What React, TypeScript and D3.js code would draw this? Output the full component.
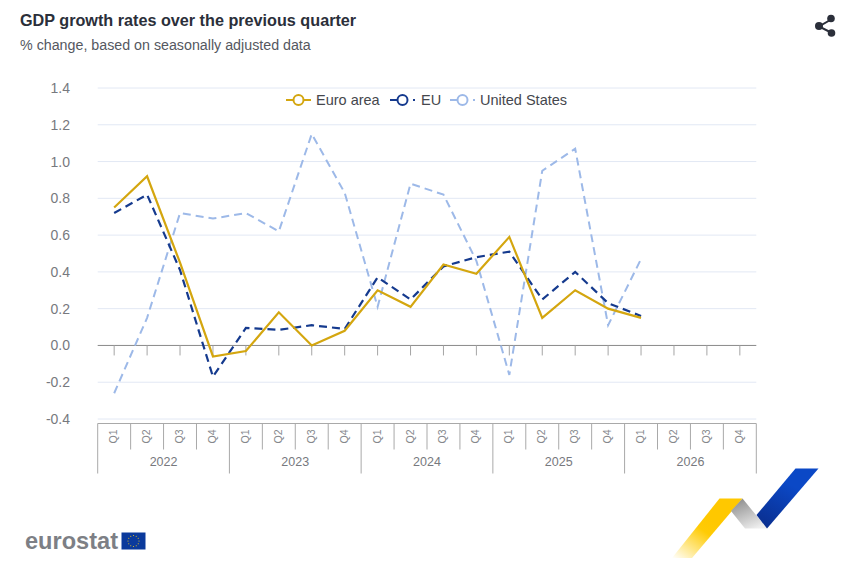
import React from "react";
import * as d3 from "d3";

const years = ["2022", "2023", "2024", "2025", "2026"];
const quarters = ["Q1", "Q2", "Q3", "Q4"];
const yTicks = [-0.4, -0.2, 0, 0.2, 0.4, 0.6, 0.8, 1.0, 1.2, 1.4];
const euroArea = [0.75, 0.92, 0.45, -0.06, -0.03, 0.18, 0.0, 0.08, 0.30, 0.21, 0.44, 0.39, 0.59, 0.15, 0.30, 0.20, 0.15];
const eu = [0.72, 0.82, 0.41, -0.17, 0.095, 0.085, 0.11, 0.09, 0.37, 0.25, 0.43, 0.48, 0.51, 0.25, 0.40, 0.23, 0.16];
const us = [-0.26, 0.15, 0.72, 0.69, 0.72, 0.62, 1.15, 0.83, 0.21, 0.88, 0.82, 0.46, -0.16, 0.95, 1.07, 0.11, 0.47];

const FONT = "'Liberation Sans', Arial, sans-serif";
const keys = years.flatMap((y) => quarters.map((q) => `${y}-${q}`));
const x = d3.scaleBand<string>().domain(keys).range([97.7, 756.3]);
const y = d3.scaleLinear().domain([-0.4, 1.4]).range([419, 88]);
const cx = (i: number) => x(keys[i])! + x.bandwidth() / 2;
const line = d3.line<number>().x((_, i) => cx(i)).y((d) => y(d));

const series = [
  { name: "United States", values: us, color: "#9db9e8", dash: "8 5", width: 2 },
  { name: "EU", values: eu, color: "#153a8e", dash: "8 5", width: 2.2 },
  { name: "Euro area", values: euroArea, color: "#d4a60f", dash: undefined, width: 2.2 },
];

const legend = [
  { label: "Euro area", color: "#d4a60f", lx: 286, tx: 316, dash: false },
  { label: "EU", color: "#153a8e", lx: 390, tx: 421, dash: true },
  { label: "United States", color: "#9db9e8", lx: 450, tx: 480, dash: true },
];

export default function App() {
  const top = 423.5, q = 449.5, bottom = 473.5;
  return (
    <svg width={842} height={565} style={{ position: "absolute", left: 0, top: 0, background: "#fff" }} fontFamily={FONT}>
      <defs>
        <linearGradient id="yel" x1="0" y1="1" x2="0.55" y2="0.35">
          <stop offset="0" stopColor="#ffcc00" stopOpacity={0} />
          <stop offset="0.75" stopColor="#ffcb05" />
          <stop offset="1" stopColor="#ffc800" />
        </linearGradient>
        <linearGradient id="gry" x1="0.2" y1="0" x2="0.7" y2="1">
          <stop offset="0" stopColor="#8d8d8d" />
          <stop offset="1" stopColor="#eeeeee" />
        </linearGradient>
        <linearGradient id="blu" x1="0.2" y1="1" x2="0.6" y2="0.3">
          <stop offset="0" stopColor="#0a2f90" />
          <stop offset="1" stopColor="#0b48c6" />
        </linearGradient>
      </defs>

      <text x={20} y={26} fontSize={16.2} fontWeight={700} fill="#2b2f3a">GDP growth rates over the previous quarter</text>
      <text x={20} y={50} fontSize={14.25} fill="#55585f">% change, based on seasonally adjusted data</text>

      <g fill="#2b2f3a" stroke="#2b2f3a">
        <path d="M832 19 L819 26.5 L832 33" fill="none" strokeWidth={2} />
        <circle cx={831} cy={18.5} r={3.8} strokeWidth={0} />
        <circle cx={819} cy={26} r={4} strokeWidth={0} />
        <circle cx={831.5} cy={33} r={3.8} strokeWidth={0} />
      </g>

      {yTicks.map((t) => (
        <g key={t}>
          {t !== 0 && <line x1={97.7} x2={756.3} y1={y(t)} y2={y(t)} stroke="#e2e8f4" strokeWidth={1} />}
          <text x={70} y={y(t) + 5} textAnchor="end" fontSize={14} fill="#77797e">{t.toFixed(1)}</text>
        </g>
      ))}

      <line x1={97.7} x2={756.3} y1={y(0)} y2={y(0)} stroke="#8a8a8a" strokeWidth={1} />
      {keys.map((_, i) => (
        <line key={i} x1={cx(i)} x2={cx(i)} y1={y(0)} y2={y(0) + 10} stroke="#a5a5a5" strokeWidth={1} />
      ))}

      {series.map((s) => (
        <path key={s.name} d={line(s.values)!} fill="none" stroke={s.color} strokeWidth={s.width} strokeDasharray={s.dash} strokeLinejoin="miter" />
      ))}

      <line x1={97.7} x2={756.3} y1={top} y2={top} stroke="#a9a9a9" strokeWidth={1} />
      {keys.map((k, i) => {
        const left = x(k)!;
        const isYear = i % 4 === 0;
        return (
          <g key={k}>
            <line x1={left} x2={left} y1={top} y2={isYear ? bottom : q} stroke="#a9a9a9" strokeWidth={1} />
            <text transform={`translate(${cx(i) + 3},${436.5}) rotate(-90)`} textAnchor="middle" fontSize={10.5} fill="#85878c">{k.slice(5)}</text>
          </g>
        );
      })}
      <line x1={756.3} x2={756.3} y1={top} y2={bottom} stroke="#a9a9a9" strokeWidth={1} />
      {years.map((yr, i) => (
        <text key={yr} x={cx(i * 4 + 1) + x.bandwidth() / 2} y={466} textAnchor="middle" fontSize={12.5} fill="#77797e">{yr}</text>
      ))}

      {legend.map((l) => (
        <g key={l.label}>
          <line x1={l.lx} x2={l.lx + 25} y1={100} y2={100} stroke={l.color} strokeWidth={2} strokeDasharray={l.dash ? "11 5 2 5" : undefined} />
          <circle cx={l.lx + 12.5} cy={100} r={5} fill="#fff" stroke={l.color} strokeWidth={2} />
          <text x={l.tx} y={105} fontSize={14.5} fill="#45474d">{l.label}</text>
        </g>
      ))}

      <text x={25} y={549} fontSize={24} fontWeight={700} fill="#7d7f85" textLength={93} lengthAdjust="spacingAndGlyphs">eurostat</text>
      <rect x={121.5} y={532.5} width={24} height={17} fill="#0b3a9c" />
      {d3.range(12).map((i) => (
        <circle key={i} cx={133.5 + 5.5 * Math.cos((i * Math.PI) / 6)} cy={541 + 5.5 * Math.sin((i * Math.PI) / 6)} r={0.6} fill="#e8c020" />
      ))}

      <path d="M672 558 L719.5 498.5 L742.5 498.5 L692 558 Z" fill="url(#yel)" />
      <path d="M742.5 498.5 L767 528.5 L745 528.5 L731 511 Z" fill="url(#gry)" />
      <path d="M756.5 515 L795.5 468.5 L818.5 468.5 L767 528.5 Z" fill="url(#blu)" />
    </svg>
  );
}
